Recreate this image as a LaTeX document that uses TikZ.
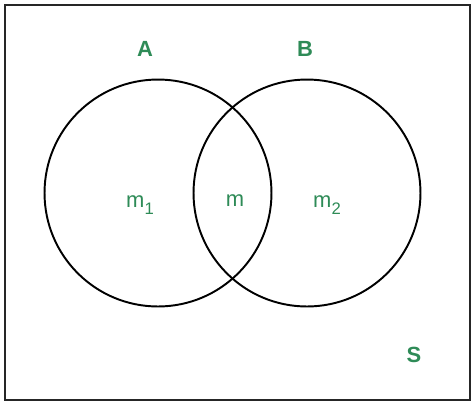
\documentclass[tikz,border=0pt]{standalone}
\usepackage{fontspec}
\setmainfont{Liberation Sans}
\usepackage{xcolor}
\usetikzlibrary{positioning, calc}
\definecolor{setgreen}{RGB}{46,139,87}
\newcommand{\lowsub}[1]{\raisebox{-0.55ex}{\fontsize{9.5}{11}\selectfont #1}}

\begin{document}
\begin{tikzpicture}[x=0.02cm, y=-0.02cm,
    setcircle/.style={circle, draw=black, line width=1.1pt, minimum size=4.54cm, inner sep=0pt},
    setlabel/.style={text=setgreen, font=\fontsize{12.5}{14}\selectfont\bfseries},
    regionlabel/.style={text=setgreen, font=\fontsize{12.5}{14}\selectfont}]
\useasboundingbox (0,0) rectangle (474,407);

% Universal set
\draw[line width=1.1pt, black!85] (5,5) rectangle (470,400);

% The two sets
\node[setcircle] (A) at (158,193) {};
\node[setcircle] (B) at (307,193) {};

% Set names
\node[setlabel] (nameA) at (145,49) {A};
\node[setlabel] (nameB) at (305,49) {B};
\node[setlabel] (nameS) at (414,355) {S};

% Regions
\node[regionlabel] (m1) at (140,205) {m\lowsub{1}};
\node[regionlabel] (m) at (235,201) {m};
\node[regionlabel] (m2) at (327,205) {m\lowsub{2}};
\end{tikzpicture}
\end{document}
